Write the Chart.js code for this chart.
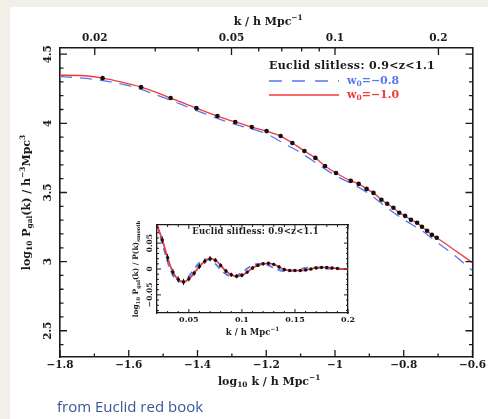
<!DOCTYPE html>
<html><head><meta charset="utf-8">
<script src="https://cdn.jsdelivr.net/npm/chart.js@4"></script>
<style>
html,body{margin:0;padding:0;background:#f2efe9;width:488px;height:419px;overflow:hidden;}
#panel{position:absolute;left:10px;top:7px;width:478px;height:412px;background:#fff;}
#main{position:absolute;left:0;top:0;}
#inset{position:absolute;left:125px;top:218px;background:#fff;}
#caption{position:absolute;left:57px;top:396px;font-family:"Open Sans",sans-serif;font-size:15px;color:#35589a;white-space:nowrap;}
</style></head>
<body>
<div id="panel"></div>
<canvas id="main" width="488" height="419"></canvas>
<canvas id="inset" width="232" height="125"></canvas>
<div id="caption">from Euclid red book</div>
<script>
// ---------- main panel data ----------
const redLogK = [-1.80,-1.74,-1.676,-1.62,-1.564,-1.52,-1.478,-1.44,-1.403,-1.342,-1.29,-1.242,-1.199,-1.158,-1.124,-1.089,-1.057,-1.029,-0.997,-0.954,-0.931,-0.908,-0.888,-0.865,-0.848,-0.830,-0.813,-0.796,-0.779,-0.761,-0.747,-0.732,-0.718,-0.704,-0.65,-0.60];
const redP    = [4.348,4.346,4.327,4.298,4.262,4.224,4.183,4.146,4.110,4.053,4.010,3.973,3.944,3.908,3.858,3.800,3.750,3.692,3.641,3.584,3.562,3.526,3.497,3.447,3.418,3.389,3.353,3.331,3.302,3.281,3.252,3.223,3.194,3.172,3.080,2.992];
const blueLogK = [-1.80,-1.70,-1.60,-1.50,-1.40,-1.30,-1.25,-1.20,-1.15,-1.10,-1.05,-1.00,-0.95,-0.90,-0.85,-0.80,-0.75,-0.70,-0.65,-0.60];
const blueP    = [4.340,4.318,4.272,4.188,4.090,4.000,3.965,3.925,3.857,3.788,3.705,3.625,3.562,3.490,3.392,3.304,3.228,3.135,3.040,2.935];
const ptLogK = [-1.676,-1.564,-1.478,-1.403,-1.342,-1.29,-1.242,-1.199,-1.158,-1.124,-1.089,-1.057,-1.029,-0.997,-0.954,-0.931,-0.908,-0.888,-0.865,-0.848,-0.830,-0.813,-0.796,-0.779,-0.761,-0.747,-0.732,-0.718,-0.704];
const ptP    = [4.327,4.262,4.183,4.110,4.053,4.010,3.973,3.944,3.908,3.858,3.800,3.750,3.692,3.641,3.584,3.562,3.526,3.497,3.447,3.418,3.389,3.353,3.331,3.302,3.281,3.252,3.223,3.194,3.172];

const bottomTicks = [-1.8,-1.6,-1.4,-1.2,-1,-0.8,-0.6];
const bottomTickLabels = ['−1.8','−1.6','−1.4','−1.2','−1','−0.8','−0.6'];
const topTickK = [0.02,0.05,0.1,0.2];
const topTickLabels = ['0.02','0.05','0.1','0.2'];
const topMinorK = [0.03,0.04,0.06,0.07,0.08,0.09];
const leftTicks = [2.5,3,3.5,4,4.5];
const leftTickLabels = ['2.5','3','3.5','4','4.5'];

// ---------- inset data ----------
const insetK    = [0.020,0.025,0.030,0.035,0.040,0.045,0.050,0.055,0.060,0.065,0.070,0.075,0.080,0.085,0.090,0.095,0.100,0.105,0.110,0.115,0.120,0.125,0.130,0.135,0.140,0.145,0.150,0.155,0.160,0.165,0.170,0.175,0.180,0.185,0.190,0.195,0.200];
const insetRed  = [0.085,0.056,0.022,-0.006,-0.020,-0.025,-0.019,-0.008,0.005,0.015,0.020,0.017,0.007,-0.004,-0.011,-0.014,-0.012,-0.006,0.002,0.007,0.010,0.011,0.009,0.004,-0.001,-0.003,-0.003,-0.003,-0.002,0.000,0.002,0.003,0.003,0.002,0.001,0.000,0.000];
const insetBlue = [0.085,0.050,0.014,-0.012,-0.023,-0.023,-0.014,0.000,0.012,0.018,0.017,0.010,-0.001,-0.010,-0.014,-0.013,-0.007,0.001,0.007,0.010,0.010,0.007,0.002,-0.002,-0.004,-0.004,-0.002,0.000,0.002,0.003,0.003,0.002,0.001,0.000,0.000,0.000,0.000];
const insetPtK  = [0.025,0.030,0.035,0.040,0.045,0.050,0.055,0.060,0.065,0.070,0.075,0.080,0.085,0.090,0.095,0.100,0.105,0.110,0.115,0.120,0.125,0.130,0.135,0.140,0.145,0.150,0.155,0.160,0.165,0.170,0.175,0.180,0.185,0.190];
const insetPtV  = [0.056,0.022,-0.006,-0.020,-0.025,-0.019,-0.008,0.005,0.015,0.020,0.017,0.007,-0.004,-0.011,-0.014,-0.012,-0.006,0.002,0.007,0.010,0.011,0.009,0.004,-0.001,-0.003,-0.003,-0.003,-0.002,0.000,0.002,0.003,0.003,0.002,0.001];
const insetErr  = [0.007,0.007,0.006,0.006,0.006,0.005,0.005,0.005,0.005,0.005,0.004,0.004,0.004,0.004,0.004,0.004,0.003,0.003,0.003,0.003,0.003,0.003,0.003,0.003,0.002,0.002,0.002,0.002,0.002,0.002,0.002,0.002,0.002,0.002];
const insetXTicks = [0.05,0.1,0.15,0.2];
const insetXTickLabels = ['0.05','0.1','0.15','0.2'];
const insetYTicks = [-0.05,0,0.05];
const insetYTickLabels = ['−0.05','0','0.05'];

const RED = '#f23a3a', BLUE = '#5577f0', INK = '#1a1a1a';
const SERIF = '"DejaVu Serif", serif';

function drawRich(ctx, segs, x, y, size, opt) {
  opt = opt || {};
  const align = opt.align || 'center', rot = opt.rot || 0, color = opt.color || INK;
  ctx.save(); ctx.translate(x, y); ctx.rotate(rot);
  ctx.fillStyle = color; ctx.textBaseline = 'middle'; ctx.textAlign = 'left';
  if (opt.spacing) ctx.letterSpacing = opt.spacing + 'px';
  let w = 0;
  const parts = segs.map(s => {
    const fs = s[1] ? size * 0.68 : size;
    ctx.font = 'bold ' + fs + 'px ' + SERIF;
    const tw = ctx.measureText(s[0]).width; w += tw;
    return {t: s[0], m: s[1], fs, tw};
  });
  let cx = align === 'center' ? -w / 2 : (align === 'right' ? -w : 0);
  for (const p of parts) {
    ctx.font = 'bold ' + p.fs + 'px ' + SERIF;
    const dy = p.m === 1 ? size * 0.32 : (p.m === 2 ? -size * 0.38 : 0);
    ctx.fillText(p.t, cx, dy); cx += p.tw;
  }
  ctx.restore();
}

function tickSet(ctx, scale, values, len, side, area) {
  ctx.beginPath();
  for (const v of values) {
    const p = scale.getPixelForValue(v);
    if (side === 'bottom') { ctx.moveTo(p, area.bottom); ctx.lineTo(p, area.bottom - len); }
    if (side === 'top')    { ctx.moveTo(p, area.top);    ctx.lineTo(p, area.top + len); }
    if (side === 'left')   { ctx.moveTo(area.left, p);   ctx.lineTo(area.left + len, p); }
    if (side === 'right')  { ctx.moveTo(area.right, p);  ctx.lineTo(area.right - len, p); }
  }
  ctx.stroke();
}

function fixed(size, key) { return s => { s[key] = size; }; }

// ---------- main chart ----------
const bottomMinor = [-1.7,-1.5,-1.3,-1.1,-0.9,-0.7], leftMinor = [];
for (let i = 24; i <= 45; i++) if (i % 5) leftMinor.push(i / 10);

const mainDeco = {
  id: 'mainDeco',
  afterDraw(chart) {
    const ctx = chart.ctx, a = chart.chartArea, sc = chart.scales;
    ctx.save(); ctx.strokeStyle = INK; ctx.lineWidth = 1.3;
    tickSet(ctx, sc.x, bottomTicks, 7, 'bottom', a);
    tickSet(ctx, sc.x, bottomMinor, 3.5, 'bottom', a);
    tickSet(ctx, sc.xTop, topTickK, 7, 'top', a);
    tickSet(ctx, sc.xTop, topMinorK, 3.5, 'top', a);
    tickSet(ctx, sc.y, leftTicks, 7, 'left', a);
    tickSet(ctx, sc.y, leftMinor, 3.5, 'left', a);
    tickSet(ctx, sc.y, leftTicks, 7, 'right', a);
    tickSet(ctx, sc.y, leftMinor, 3.5, 'right', a);
    ctx.restore();
    leftTicks.forEach((v, i) => drawRich(ctx, [[leftTickLabels[i], 0]], 48, sc.y.getPixelForValue(v), 10.5, {rot: -Math.PI / 2}));
    const cx = (a.left + a.right) / 2;
    drawRich(ctx, [['k / h Mpc', 0], ['−1', 2]], cx + 2, 22, 11);
    drawRich(ctx, [['log', 0], ['10', 1], [' k / h Mpc', 0], ['−1', 2]], cx + 3, 382, 11);
    drawRich(ctx, [['log', 0], ['10', 1], [' P', 0], ['gal', 1], ['(k) / h', 0], ['−3', 2], ['Mpc', 0], ['3', 2]], 27, (a.top + a.bottom) / 2, 11, {rot: -Math.PI / 2});
    // legend
    drawRich(ctx, [['Euclid slitless: 0.9<z<1.1', 0]], 269, 66, 11, {align: 'left', spacing: 0.35});
    ctx.save(); ctx.lineWidth = 1.3;
    ctx.strokeStyle = BLUE; ctx.setLineDash([13, 10]);
    ctx.beginPath(); ctx.moveTo(269, 81); ctx.lineTo(339, 81); ctx.stroke();
    ctx.setLineDash([]); ctx.strokeStyle = RED;
    ctx.beginPath(); ctx.moveTo(269, 95); ctx.lineTo(339, 95); ctx.stroke();
    ctx.restore();
    drawRich(ctx, [['w', 0], ['0', 1], ['=−0.8', 0]], 347, 81, 11, {align: 'left', color: BLUE});
    drawRich(ctx, [['w', 0], ['0', 1], ['=−1.0', 0]], 347, 95, 11, {align: 'left', color: RED});
  }
};

const tickFont = {family: SERIF, size: 10.5, weight: 'bold'};
const border = {display: true, color: INK, width: 1.6};
new Chart(document.getElementById('main'), {
  type: 'line',
  data: {datasets: [
    {data: redLogK.map((x, i) => ({x, y: redP[i]})), borderColor: RED, borderWidth: 1.3, pointRadius: 0, cubicInterpolationMode: 'monotone', order: 2},
    {data: blueLogK.map((x, i) => ({x, y: blueP[i]})), borderColor: BLUE, borderWidth: 1.3, borderDash: [12, 8], pointRadius: 0, cubicInterpolationMode: 'monotone', order: 3},
    {type: 'scatter', data: ptLogK.map((x, i) => ({x, y: ptP[i]})), pointRadius: 2.3, backgroundColor: '#111', borderWidth: 0, order: 1}
  ]},
  options: {
    responsive: false, animation: false, devicePixelRatio: 1,
    layout: {padding: 0},
    plugins: {legend: {display: false}, tooltip: {enabled: false}},
    scales: {
      x: {type: 'linear', position: 'bottom', min: -1.8, max: -0.6,
        afterBuildTicks: s => { s.ticks = bottomTicks.map(v => ({value: v})); },
        afterFit: fixed(62, 'height'),
        ticks: {callback: (v, i) => bottomTickLabels[i], font: tickFont, color: INK, padding: 2, maxRotation: 0, autoSkip: false},
        grid: {display: false, drawTicks: false}, border},
      xTop: {type: 'logarithmic', position: 'top', min: Math.pow(10, -1.8), max: Math.pow(10, -0.6),
        afterBuildTicks: s => { s.ticks = topTickK.map(v => ({value: v})); },
        afterFit: fixed(48, 'height'),
        ticks: {callback: (v, i) => topTickLabels[i], font: tickFont, color: INK, padding: 3, maxRotation: 0, autoSkip: false},
        grid: {display: false, drawTicks: false}, border},
      y: {type: 'linear', position: 'left', min: 2.31, max: 4.545,
        afterBuildTicks: s => { s.ticks = leftTicks.map(v => ({value: v})); },
        afterFit: fixed(60, 'width'),
        ticks: {display: false}, grid: {display: false, drawTicks: false}, border},
      yR: {type: 'linear', position: 'right', min: 2.31, max: 4.545,
        afterFit: fixed(11, 'width'),
        ticks: {display: false}, grid: {display: false, drawTicks: false}, border}
    }
  },
  plugins: [mainDeco]
});

// ---------- inset chart ----------
const insetXMinor = [], insetYMinor = [];
for (let i = 2; i <= 20; i++) if (i % 5) insetXMinor.push(i / 100);
for (let i = -8; i <= 8; i++) if (i % 5) insetYMinor.push(i / 100);

const insetDeco = {
  id: 'insetDeco',
  afterDatasetsDraw(chart) {
    const ctx = chart.ctx, sc = chart.scales;
    ctx.save(); ctx.strokeStyle = '#111'; ctx.lineWidth = 1;
    ctx.beginPath();
    insetPtK.forEach((k, i) => {
      const px = sc.x.getPixelForValue(k);
      ctx.moveTo(px, sc.y.getPixelForValue(insetPtV[i] - insetErr[i]));
      ctx.lineTo(px, sc.y.getPixelForValue(insetPtV[i] + insetErr[i]));
    });
    ctx.stroke(); ctx.restore();
  },
  afterDraw(chart) {
    const ctx = chart.ctx, a = chart.chartArea, sc = chart.scales;
    ctx.save(); ctx.strokeStyle = INK; ctx.lineWidth = 1;
    tickSet(ctx, sc.x, insetXTicks, 4, 'bottom', a);
    tickSet(ctx, sc.x, insetXMinor, 2, 'bottom', a);
    tickSet(ctx, sc.x, insetXTicks, 4, 'top', a);
    tickSet(ctx, sc.x, insetXMinor, 2, 'top', a);
    tickSet(ctx, sc.y, insetYTicks, 4, 'left', a);
    tickSet(ctx, sc.y, insetYMinor, 2, 'left', a);
    tickSet(ctx, sc.y, insetYTicks, 4, 'right', a);
    tickSet(ctx, sc.y, insetYMinor, 2, 'right', a);
    ctx.restore();
    insetYTicks.forEach((v, i) => drawRich(ctx, [[insetYTickLabels[i], 0]], 25, sc.y.getPixelForValue(v), 7.5, {rot: -Math.PI / 2}));
    const cx = (a.left + a.right) / 2;
    drawRich(ctx, [['Euclid slitless: 0.9<z<1.1', 0]], cx + 3, 14, 8.5, {spacing: 0.2});
    drawRich(ctx, [['k / h Mpc', 0], ['−1', 2]], cx, 115, 8.5);
    drawRich(ctx, [['log', 0], ['10', 1], [' P', 0], ['gal', 1], ['(k) / P(k)', 0], ['smooth', 1]], 11, (a.top + a.bottom) / 2, 7.5, {rot: -Math.PI / 2});
  }
};

const insetFont = {family: SERIF, size: 8, weight: 'bold'};
const insetBorder = {display: true, color: INK, width: 1.3};
new Chart(document.getElementById('inset'), {
  type: 'line',
  data: {datasets: [
    {data: insetK.map((x, i) => ({x, y: insetRed[i]})), borderColor: RED, borderWidth: 1.8, pointRadius: 0, tension: 0.4, order: 2},
    {data: insetK.map((x, i) => ({x, y: insetBlue[i]})), borderColor: BLUE, borderWidth: 1.8, borderDash: [7, 5], pointRadius: 0, tension: 0.4, order: 3},
    {type: 'scatter', data: insetPtK.map((x, i) => ({x, y: insetPtV[i]})), pointRadius: 1.7, backgroundColor: '#111', borderWidth: 0, order: 1}
  ]},
  options: {
    responsive: false, animation: false, devicePixelRatio: 1,
    layout: {padding: 0},
    plugins: {legend: {display: false}, tooltip: {enabled: false}},
    scales: {
      x: {type: 'linear', position: 'bottom', min: 0.02, max: 0.2,
        afterBuildTicks: s => { s.ticks = insetXTicks.map(v => ({value: v})); },
        afterFit: fixed(30, 'height'),
        ticks: {callback: (v, i) => insetXTickLabels[i], font: insetFont, color: INK, padding: 2, maxRotation: 0, autoSkip: false},
        grid: {display: false, drawTicks: false}, border: insetBorder},
      xTop: {type: 'linear', position: 'top', min: 0.02, max: 0.2,
        afterFit: fixed(7, 'height'),
        ticks: {display: false}, grid: {display: false, drawTicks: false}, border: insetBorder},
      y: {type: 'linear', position: 'left', min: -0.085, max: 0.085,
        afterFit: fixed(32, 'width'),
        ticks: {display: false}, grid: {display: false, drawTicks: false}, border: insetBorder},
      yR: {type: 'linear', position: 'right', min: -0.085, max: 0.085,
        afterFit: fixed(7, 'width'),
        ticks: {display: false}, grid: {display: false, drawTicks: false}, border: insetBorder}
    }
  },
  plugins: [insetDeco]
});
</script>
</body></html>
